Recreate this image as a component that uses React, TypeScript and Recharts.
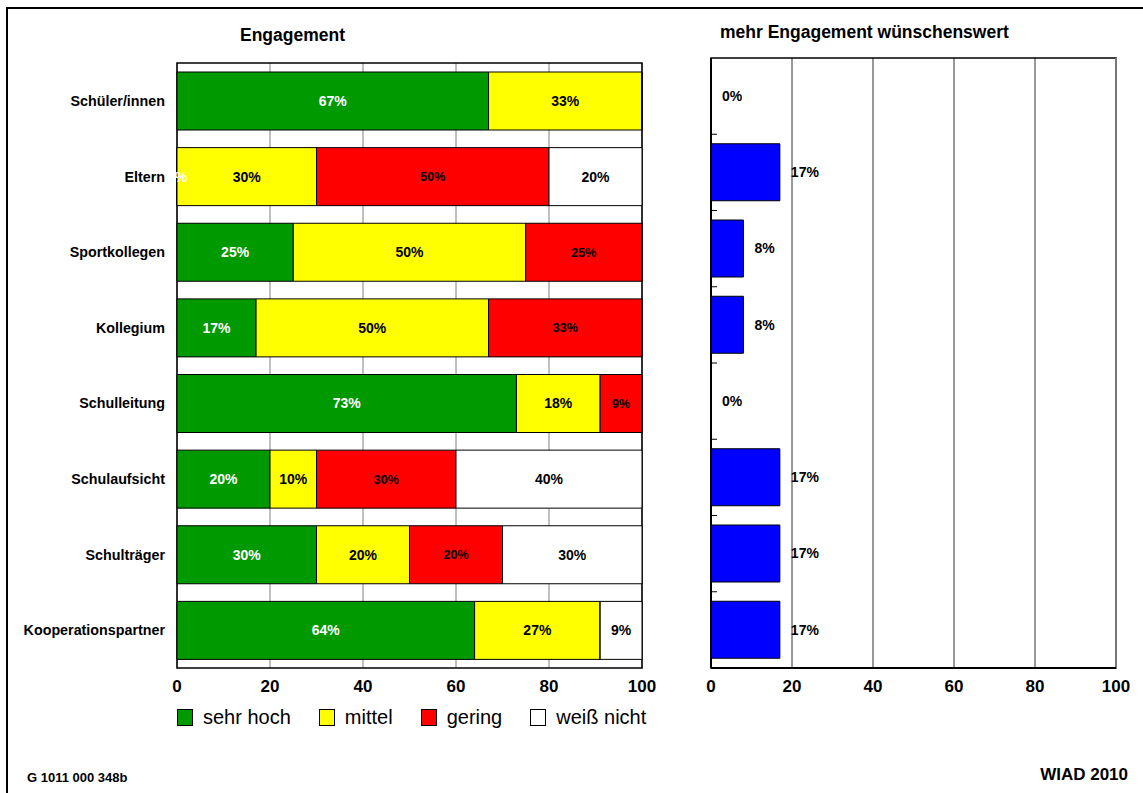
import { BarChart, Bar, XAxis, YAxis, CartesianGrid, LabelList, ReferenceArea, ReferenceLine } from "recharts";

const categories = [
  "Schüler/innen",
  "Eltern",
  "Sportkollegen",
  "Kollegium",
  "Schulleitung",
  "Schulaufsicht",
  "Schulträger",
  "Kooperationspartner",
];
const sehrHoch = [67, 0, 25, 17, 73, 20, 30, 64];
const mittel = [33, 30, 50, 50, 18, 10, 20, 27];
const gering = [0, 50, 25, 33, 9, 30, 20, 0];
const weissNicht = [0, 20, 0, 0, 0, 40, 30, 9];
const mehrEngagement = [0, 17, 8, 8, 0, 17, 17, 17];
const xTicks = [0, 20, 40, 60, 80, 100];

const series = [
  { key: "sehrHoch", name: "sehr hoch", color: "#009900", labelColor: "#fff", labelSize: 14, showZero: true },
  { key: "mittel", name: "mittel", color: "#ffff00", labelColor: "#000", labelSize: 14, showZero: false },
  { key: "gering", name: "gering", color: "#ff0000", labelColor: "#000", labelSize: 12.5, showZero: false },
  { key: "weissNicht", name: "weiß nicht", color: "#ffffff", labelColor: "#000", labelSize: 14, showZero: false },
];

const data = categories.map((name, i) => ({
  name,
  sehrHoch: sehrHoch[i],
  mittel: mittel[i],
  gering: gering[i],
  weissNicht: weissNicht[i],
  mehr: mehrEngagement[i],
}));

const FONT = '"Liberation Sans", Arial, sans-serif';

// right chart: plot spans 58..668
const RIGHT_TOP = 58;
const RIGHT_BOTTOM = 668;
const halfBand = (RIGHT_BOTTOM - RIGHT_TOP) / categories.length / 2;

const BoundaryTick = (props: any) => {
  const { x, y, index } = props;
  if (index >= categories.length - 1) return null;
  return <line x1={x} x2={x + 6} y1={y + halfBand} y2={y + halfBand} stroke="#000" strokeWidth={1} />;
};

const App = () => {
  return (
    <div
      style={{
        position: "absolute",
        left: 0,
        top: 0,
        width: 1143,
        height: 793,
        overflow: "hidden",
        background: "#fff",
        fontFamily: FONT,
      }}
    >
      <div
        style={{
          position: "absolute",
          left: 6,
          top: 7,
          width: 1300,
          height: 1000,
          border: "2px solid #000",
        }}
      />

      <div style={{ position: "absolute", left: 240, top: 25, fontSize: 17.5, fontWeight: "bold" }}>Engagement</div>
      <div style={{ position: "absolute", left: 720, top: 22, fontSize: 17.5, fontWeight: "bold" }}>
        mehr Engagement wünschenswert
      </div>

      {/* left chart */}
      <div style={{ position: "absolute", left: 0, top: 0 }}>
        <BarChart
          width={660}
          height={700}
          data={data}
          layout="vertical"
          margin={{ top: 63, right: 18, bottom: 0, left: 7 }}
          barCategoryGap={9}
        >
          <CartesianGrid horizontal={false} stroke="#808080" />
          <XAxis
            type="number"
            domain={[0, 100]}
            ticks={xTicks}
            height={32}
            axisLine={false}
            tickLine={false}
            tickSize={0}
            tickMargin={12}
            tick={{ fill: "#000", fontSize: 17, fontWeight: "bold" }}
          />
          <YAxis
            type="category"
            dataKey="name"
            width={170}
            axisLine={false}
            tickLine={false}
            tickSize={0}
            tickMargin={12}
            tick={{ fill: "#000", fontSize: 14.3, fontWeight: "bold" }}
          />
          {series.map((s) => (
            <Bar
              key={s.key}
              dataKey={s.key}
              stackId="a"
              fill={s.color}
              stroke="#000"
              strokeWidth={1}
              minPointSize={0.01}
              isAnimationActive={false}
            >
              <LabelList
                dataKey={s.key}
                position="center"
                fill={s.labelColor}
                fontSize={s.labelSize}
                fontWeight="bold"
                formatter={(v: any) => (v > 0 || s.showZero ? `${v}%` : "")}
              />
            </Bar>
          ))}
          <ReferenceArea x1={0} x2={100} fill="none" stroke="#000" strokeWidth={1.5} fillOpacity={0} />
        </BarChart>
      </div>

      {/* right chart */}
      <div style={{ position: "absolute", left: 680, top: 0 }}>
        <BarChart
          width={463}
          height={700}
          data={data}
          layout="vertical"
          margin={{ top: RIGHT_TOP, right: 27, bottom: 700 - RIGHT_BOTTOM - 32, left: 0 }}
          barCategoryGap={9.5}
        >
          <CartesianGrid horizontal={false} stroke="#333" />
          <XAxis
            type="number"
            domain={[0, 100]}
            ticks={xTicks}
            height={32}
            axisLine={{ stroke: "#000", strokeWidth: 2 }}
            tickLine={false}
            tickSize={0}
            tickMargin={12}
            tick={{ fill: "#000", fontSize: 17, fontWeight: "bold" }}
          />
          <YAxis
            type="category"
            dataKey="name"
            width={31}
            axisLine={{ stroke: "#000", strokeWidth: 2 }}
            tickLine={false}
            tickSize={0}
            tickMargin={0}
            tick={<BoundaryTick />}
          />
          <Bar
            dataKey="mehr"
            fill="#0000ff"
            stroke="#000"
            strokeWidth={1}
            minPointSize={0.01}
            isAnimationActive={false}
          >
            <LabelList
              dataKey="mehr"
              position="right"
              offset={11}
              fill="#000"
              fontSize={14}
              fontWeight="bold"
              formatter={(v: any) => `${v}%`}
            />
          </Bar>
          <ReferenceArea x1={0} x2={100} fill="none" stroke="#000" strokeWidth={1.5} fillOpacity={0} />
          <ReferenceLine x={100} stroke="#777" strokeWidth={2} />
        </BarChart>
      </div>

      {/* legend */}
      <div
        style={{
          position: "absolute",
          left: 177,
          top: 706,
          display: "flex",
          alignItems: "center",
          fontSize: 20,
        }}
      >
        {series.map((s) => (
          <div key={s.key} style={{ display: "flex", alignItems: "center", marginRight: 28 }}>
            <div
              style={{
                width: 14,
                height: 15,
                background: s.color,
                border: "1px solid #000",
                marginRight: 10,
              }}
            />
            <span>{s.name}</span>
          </div>
        ))}
      </div>

      <div style={{ position: "absolute", left: 27, top: 770, fontSize: 13, fontWeight: "bold" }}>G 1011 000 348b</div>
      <div style={{ position: "absolute", right: 15, top: 765, fontSize: 17, fontWeight: "bold" }}>WIAD 2010</div>
    </div>
  );
};

export default App;
